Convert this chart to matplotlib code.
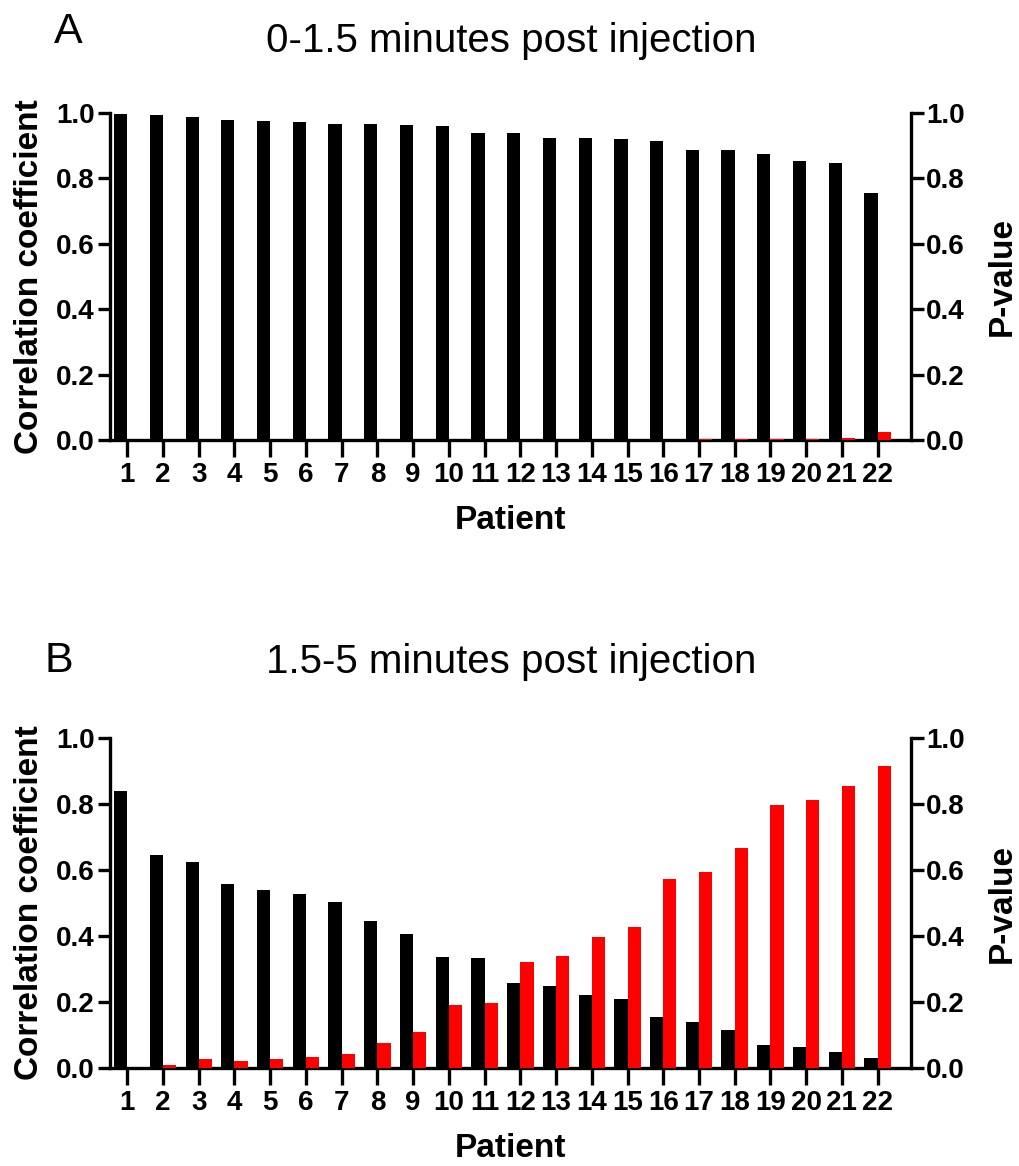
import numpy as np
import matplotlib.pyplot as plt

plt.rcParams['font.family'] = ['Liberation Sans', 'DejaVu Sans']

patients = list(range(1, 23))

# panel A: 0-1.5 minutes post injection
corr_a = [0.997, 0.993, 0.987, 0.980, 0.975, 0.973, 0.967, 0.965, 0.962, 0.960, 0.940,
          0.938, 0.925, 0.923, 0.921, 0.915, 0.888, 0.886, 0.874, 0.853, 0.848, 0.755]
pval_a = [0.0, 0.0, 0.0, 0.0, 0.0, 0.0, 0.0, 0.0, 0.0, 0.0, 0.0,
          0.0, 0.0, 0.0, 0.0, 0.0005, 0.002, 0.002, 0.003, 0.004, 0.005, 0.025]

# panel B: 1.5-5 minutes post injection
corr_b = [0.838, 0.644, 0.624, 0.559, 0.540, 0.526, 0.504, 0.444, 0.406, 0.336, 0.332,
          0.258, 0.249, 0.222, 0.209, 0.154, 0.141, 0.114, 0.069, 0.064, 0.050, 0.030]
pval_b = [0.0, 0.010, 0.026, 0.022, 0.027, 0.032, 0.042, 0.077, 0.109, 0.191, 0.197,
          0.320, 0.340, 0.397, 0.427, 0.573, 0.594, 0.668, 0.797, 0.812, 0.855, 0.914]

yticks = [0.0, 0.2, 0.4, 0.6, 0.8, 1.0]

W, H = 1020, 1166
fig = plt.figure(figsize=(W / 100, H / 100), dpi=100)

lw = 2.4
bw = 0.37


def panel(rect, corr, pval, title, title_y, letter, letter_x, letter_y):
    ax = fig.add_axes(rect)
    ax2 = ax.twinx()
    x = np.array(patients)
    ax.bar(x - bw / 2, corr, width=bw, color='black', zorder=3)
    ax2.bar(x + bw / 2, pval, width=bw, color='#ff0000', zorder=3)
    for a in (ax, ax2):
        a.set_ylim(0, 1.0)
        a.set_xlim(0.52, 22.93)
        a.set_yticks(yticks)
        a.set_yticklabels([f'{v:.1f}' for v in yticks], fontsize=20, fontweight='bold')
        for s in a.spines.values():
            s.set_linewidth(lw)
        a.spines['top'].set_visible(False)
        a.tick_params(axis='y', width=lw, length=9, pad=2)
    ax.spines['right'].set_visible(False)
    ax2.spines['left'].set_visible(False)
    ax2.spines['bottom'].set_visible(False)
    ax.set_xticks(patients)
    ax.set_xticklabels([str(p) for p in patients], fontsize=20, fontweight='bold')
    ax.tick_params(axis='x', width=lw, length=12, pad=4)
    ax.set_ylabel('Correlation coefficient', fontsize=24, fontweight='bold', labelpad=8)
    ax2.set_ylabel('P-value', fontsize=24, fontweight='bold', labelpad=16)
    ax.set_xlabel('Patient', fontsize=24, fontweight='bold', labelpad=12)
    fig.text(0.5015, 1 - title_y / H, title, fontsize=29, ha='center', va='baseline')
    fig.text(letter_x / W, 1 - letter_y / H, letter, fontsize=31, ha='left', va='baseline')
    return ax


panel([0.108, 0.6226, 0.785, 0.2805], corr_a, pval_a,
      '0-1.5 minutes post injection', 52, 'A', 54, 43)
panel([0.108, 0.0840, 0.785, 0.2831], corr_b, pval_b,
      '1.5-5 minutes post injection', 673, 'B', 45, 672)

fig.savefig('out.png', dpi=100)
